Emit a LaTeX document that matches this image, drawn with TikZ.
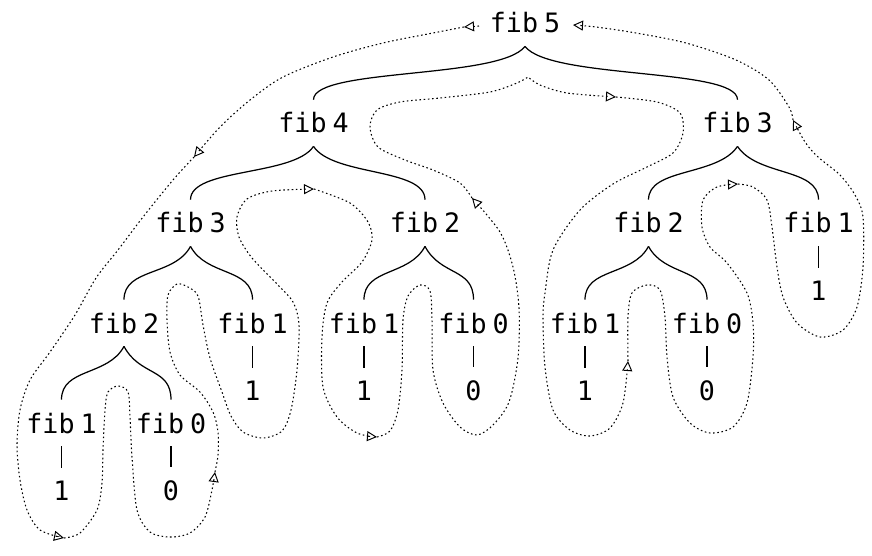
\documentclass[tikz,border=0pt]{standalone}
\usepackage{fontspec}
\setmonofont{DejaVu Sans Mono}
\usetikzlibrary{arrows.meta}

\begin{document}
\begin{tikzpicture}[x=0.02cm,y=0.02cm,
	call/.style={font=\ttfamily\fontsize{15.2}{17}\selectfont,inner sep=7.2pt,anchor=base},
	branch/.style={line width=.7pt},
	tour/.style={dash pattern=on .9pt off 1.5pt,line width=.6pt,-{Triangle[open,length=5.7pt,width=5.7pt,line width=.55pt]}}]
	\useasboundingbox (0,0) rectangle (872,555);
	% calls
	\node[call] (f5) at (525,522) {fib\kern.22em5};
	\node[call] (f4) at (313.5,422) {fib\kern.22em4};
	\node[call] (f3r) at (737.5,422) {fib\kern.22em3};
	\node[call] (f3l) at (190.5,322) {fib\kern.22em3};
	\node[call] (f2m) at (425,322) {fib\kern.22em2};
	\node[call] (f2r) at (648.5,322) {fib\kern.22em2};
	\node[call] (f1r) at (818.5,322) {fib\kern.22em1};
	\node[call] (f2l) at (124,222) {fib\kern.22em2};
	\node[call] (f1a) at (252.5,222) {fib\kern.22em1};
	\node[call] (f1b) at (364,222) {fib\kern.22em1};
	\node[call] (f0b) at (473.5,222) {fib\kern.22em0};
	\node[call] (f1c) at (585,222) {fib\kern.22em1};
	\node[call] (f0c) at (707,222) {fib\kern.22em0};
	\node[call] (f1d) at (61.5,122) {fib\kern.22em1};
	\node[call] (f0d) at (171,122) {fib\kern.22em0};
	% values
	\node[call] (v1r) at (818.5,255) {1};
	\node[call] (v1a) at (252.5,155) {1};
	\node[call] (v1b) at (364,155) {1};
	\node[call] (v0b) at (473.5,155) {0};
	\node[call] (v1c) at (585,155) {1};
	\node[call] (v0c) at (707,155) {0};
	\node[call] (v1d) at (61.5,55) {1};
	\node[call] (v0d) at (171,55) {0};
	% tree
	\draw[branch] (f5.south) .. controls +(-25,-33) and +(0,32) .. (f4.north);
	\draw[branch] (f5.south) .. controls +(25,-33) and +(0,32) .. (f3r.north);
	\draw[branch] (f4.south) .. controls +(-20,-30) and +(0,32) .. (f3l.north);
	\draw[branch] (f4.south) .. controls +(20,-30) and +(0,32) .. (f2m.north);
	\draw[branch] (f3r.south) .. controls +(-20,-30) and +(0,32) .. (f2r.north);
	\draw[branch] (f3r.south) .. controls +(20,-30) and +(0,32) .. (f1r.north);
	\draw[branch] (f3l.south) .. controls +(-16,-30) and +(0,32) .. (f2l.north);
	\draw[branch] (f3l.south) .. controls +(16,-30) and +(0,32) .. (f1a.north);
	\draw[branch] (f2m.south) .. controls +(-16,-30) and +(0,32) .. (f1b.north);
	\draw[branch] (f2m.south) .. controls +(16,-30) and +(0,32) .. (f0b.north);
	\draw[branch] (f2r.south) .. controls +(-16,-30) and +(0,32) .. (f1c.north);
	\draw[branch] (f2r.south) .. controls +(16,-30) and +(0,32) .. (f0c.north);
	\draw[branch] (f2l.south) .. controls +(-16,-30) and +(0,32) .. (f1d.north);
	\draw[branch] (f2l.south) .. controls +(16,-30) and +(0,32) .. (f0d.north);
	\foreach \a/\b in {f1r/v1r,f1a/v1a,f1b/v1b,f0b/v0b,f1c/v1c,f0c/v0c,f1d/v1d,f0d/v0d}
		\draw[branch] (\a.south) -- (\b.north);
	% the order of evaluation
	\draw[tour] (479,529) -- (464,528);
	\draw[tour] plot[smooth] coordinates {(464,528) (433,522) (383,512) (333,498) (283,478) (250,455) (220,428) (194,398)};
	\draw[tour] plot[smooth] coordinates {(194,398) (173,375) (143,338) (118,305) (96,277) (75,240) (50,203) (30,175) (20,145) (17,110) (20,75) (27,45) (40,25) (64,17)};
	\draw[tour] plot[smooth] coordinates {(64,17) (80,22) (97,45) (102,72) (103,105) (105,145) (108,163) (118,169) (128,163) (130,138) (132,98) (137,45) (150,23) (170,18) (190,22) (205,38) (212,65) (215,83)};
	\draw[tour] plot[smooth] coordinates {(215,83) (218,100) (218,123) (213,143) (200,163) (180,180) (170,203) (167,235) (168,260) (177,271) (188,268) (198,259) (203,230) (210,197) (222,163) (231,139) (243,123) (263,117) (282,124) (291,145) (297,185) (299,230) (293,253) (277,271) (252,297) (239,318) (237,338) (247,356) (272,364) (314,366)};
	\draw[tour] plot[smooth] coordinates {(314,366) (350,352) (368,333) (372,315) (362,293) (342,273) (327,252) (322,218) (323,168) (337,138) (357,122) (377,118)};
	\draw[tour] plot[smooth] coordinates {(377,118) (390,124) (398,145) (402,185) (403,235) (408,259) (420,270) (430,264) (432,235) (433,185) (443,152) (460,128) (477,120) (493,130) (509,153) (518,197) (519,247) (513,288) (500,323) (472,357)};
	\draw[tour] plot[smooth] coordinates {(472,357) (460,372) (433,385) (405,395) (378,408) (370,428) (377,445) (400,453) (440,457) (490,463) (517,472) (528,478)}
		-- plot[smooth] coordinates {(528,478) (540,470) (567,462) (616,458)};
	\draw[tour] plot[smooth] coordinates {(616,458) (657,453) (680,442) (683,422) (673,402) (647,388) (613,371) (580,345) (553,305) (545,262) (543,238) (545,188) (553,145) (570,125) (590,119) (610,127) (623,152) (628,194)};
	\draw[tour] plot[smooth] coordinates {(628,194) (628,238) (632,262) (647,270) (660,265) (665,238) (667,198) (673,158) (690,132) (710,122) (733,128) (747,152) (753,198) (753,232) (747,262) (727,292) (710,308) (702,328) (703,355) (717,368) (738,371)};
	\draw[tour] plot[smooth] coordinates {(738,371) (753,368) (767,355) (772,328) (777,288) (783,258) (797,232) (820,218) (843,225) (857,248) (863,288) (863,338) (855,360) (840,380) (818,398) (805,413) (793,435)};
	\draw[tour] plot[smooth] coordinates {(793,435) (789,448) (769,475) (736,495) (686,512) (636,522) (596,528) (573,530)};
\end{tikzpicture}
\end{document}
